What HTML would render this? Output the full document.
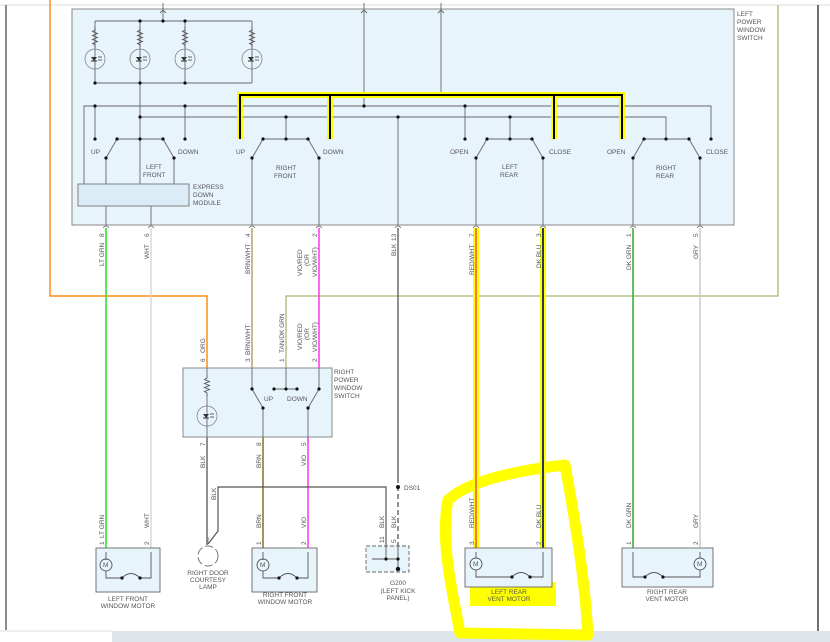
<!DOCTYPE html>
<html><head><meta charset="utf-8"><style>
html,body{margin:0;padding:0;background:#fff;}
svg{display:block;}
text{font-family:"Liberation Sans",sans-serif;font-size:6.5px;fill:#555;}
</style></head><body>
<svg width="830" height="642" viewBox="0 0 830 642" xmlns="http://www.w3.org/2000/svg">
<defs>
<g id="res"><path d="M0,0 l0,3 l-2.5,1.5 l5,2 l-5,2 l5,2 l-5,2 l5,2 l-5,2 l2.5,1.5 l0,3" fill="none" stroke="#555" stroke-width="0.9"/></g>
<g id="led"><circle r="10" fill="none" stroke="#777" stroke-width="0.7"/><path d="M-4,-2 l6,0 l-3,4z" fill="#333"/><path d="M-4,2 l6,0" stroke="#333"/><path d="M3,-2 l4,0 M3,1 l4,0" stroke="#333" stroke-width="0.8"/></g>
</defs>
<!-- frame lines -->
<line x1="0" y1="5" x2="830" y2="5" stroke="#ddd" stroke-width="1"/>
<line x1="6" y1="5" x2="6" y2="630" stroke="#666" stroke-width="1.5"/>
<line x1="818" y1="5" x2="818" y2="632" stroke="#111" stroke-width="1.2"/>
<line x1="0" y1="631" x2="112" y2="631" stroke="#ddd"/>
<rect x="112" y="631" width="718" height="11" fill="#dde4ea"/>

<!-- yellow scribble -->
<path d="M448,500 C470,480 520,470 565,465 C575,520 585,580 588,635 L460,633 C452,590 440,540 448,500 Z" fill="none" stroke="#ffff00" stroke-width="11" stroke-linejoin="round"/>
<rect x="470" y="582" width="86" height="24" fill="#ffff00"/>

<!-- orange & olive wires -->
<polyline points="50,0 50,296 207,296 207,368" fill="none" stroke="#ff8a1a" stroke-width="1.5"/>
<polyline points="778,5 778,296 286,296 286,368" fill="none" stroke="#a8b870" stroke-width="1.3"/>

<!-- main box -->
<rect x="72" y="9" width="662" height="216" fill="#e8f4fc" stroke="#888" stroke-width="1"/>
<text x="737" y="16">LEFT</text><text x="737" y="24">POWER</text><text x="737" y="32">WINDOW</text><text x="737" y="40">SWITCH</text>

<g stroke="#666" stroke-width="0.9" fill="none">
<line x1="163" y1="3" x2="163" y2="21"/><path d="M160,13 l3,-3 l3,3"/>
<line x1="95" y1="21" x2="252" y2="21"/>
<line x1="95" y1="21" x2="95" y2="83"/><line x1="140" y1="21" x2="140" y2="139"/><line x1="185" y1="21" x2="185" y2="83"/><line x1="252" y1="21" x2="252" y2="83"/>
<line x1="95" y1="83" x2="252" y2="83"/>
<polyline points="84,184 84,106 711,106 711,139"/>
<line x1="95" y1="106" x2="95" y2="139"/><line x1="185" y1="106" x2="185" y2="139"/><line x1="465" y1="106" x2="465" y2="139"/>
<polyline points="140,117 666,117 666,139"/>
<line x1="286" y1="117" x2="286" y2="139"/><line x1="510" y1="117" x2="510" y2="139"/>
<line x1="398" y1="117" x2="398" y2="225"/>
<line x1="364" y1="3" x2="364" y2="106"/><path d="M361,13 l3,-3 l3,3"/>
<line x1="441" y1="3" x2="441" y2="95"/><path d="M438,13 l3,-3 l3,3"/>
<!-- switch bars -->
<line x1="117" y1="139" x2="163" y2="139"/><line x1="263" y1="139" x2="308" y2="139"/><line x1="487" y1="139" x2="532" y2="139"/><line x1="644" y1="139" x2="689" y2="139"/>
<line x1="117" y1="139" x2="106" y2="158"/><line x1="163" y1="139" x2="174" y2="158"/>
<line x1="263" y1="139" x2="252" y2="158"/><line x1="308" y1="139" x2="319" y2="158"/>
<line x1="487" y1="139" x2="476" y2="158"/><line x1="532" y1="139" x2="543" y2="158"/>
<line x1="644" y1="139" x2="633" y2="158"/><line x1="689" y1="139" x2="700" y2="158"/>
<line x1="106" y1="158" x2="106" y2="184"/><line x1="174" y1="158" x2="174" y2="184"/><line x1="140" y1="139" x2="140" y2="184"/>
<line x1="106" y1="206" x2="106" y2="225"/><line x1="151" y1="206" x2="151" y2="225"/>
<line x1="252" y1="158" x2="252" y2="225"/><line x1="319" y1="158" x2="319" y2="225"/>
<line x1="476" y1="158" x2="476" y2="225"/><line x1="543" y1="158" x2="543" y2="225"/>
<line x1="633" y1="158" x2="633" y2="225"/><line x1="700" y1="158" x2="700" y2="225"/>
</g>
<rect x="78" y="184" width="111" height="22" fill="#dcecf6" stroke="#777" stroke-width="0.9"/>
<text x="193" y="189">EXPRESS</text><text x="193" y="197">DOWN</text><text x="193" y="205">MODULE</text>
<use href="#res" x="95" y="27"/><use href="#res" x="140" y="27"/><use href="#res" x="185" y="27"/><use href="#res" x="252" y="27"/>
<use href="#led" x="95" y="59"/><use href="#led" x="140" y="59"/><use href="#led" x="185" y="59"/><use href="#led" x="252" y="59"/>
<!-- yellow bold -->
<polyline points="240,139 240,95 622,95 622,139" fill="none" stroke="#ffff00" stroke-width="6"/>
<line x1="330" y1="95" x2="330" y2="139" stroke="#ffff00" stroke-width="6"/><line x1="554" y1="95" x2="554" y2="139" stroke="#ffff00" stroke-width="6"/>
<polyline points="240,139 240,95 622,95 622,139" fill="none" stroke="#000" stroke-width="2"/>
<line x1="330" y1="95" x2="330" y2="139" stroke="#000" stroke-width="2"/><line x1="554" y1="95" x2="554" y2="139" stroke="#000" stroke-width="2"/>
<g fill="#111">
<circle cx="163" cy="21" r="1.6"/><circle cx="140" cy="21" r="1.6"/><circle cx="185" cy="21" r="1.6"/>
<circle cx="95" cy="83" r="1.6"/><circle cx="140" cy="83" r="1.6"/><circle cx="185" cy="83" r="1.6"/>
<circle cx="95" cy="106" r="1.6"/><circle cx="185" cy="106" r="1.6"/><circle cx="364" cy="106" r="1.6"/><circle cx="465" cy="106" r="1.6"/>
<circle cx="140" cy="117" r="1.6"/><circle cx="286" cy="117" r="1.6"/><circle cx="398" cy="117" r="1.6"/><circle cx="510" cy="117" r="1.6"/>
<circle cx="95" cy="139" r="1.6"/><circle cx="185" cy="139" r="1.6"/><circle cx="117" cy="139" r="1.6"/><circle cx="140" cy="139" r="1.6"/><circle cx="163" cy="139" r="1.6"/>
<circle cx="263" cy="139" r="1.6"/><circle cx="286" cy="139" r="1.6"/><circle cx="308" cy="139" r="1.6"/>
<circle cx="465" cy="139" r="1.6"/><circle cx="487" cy="139" r="1.6"/><circle cx="510" cy="139" r="1.6"/><circle cx="532" cy="139" r="1.6"/>
<circle cx="644" cy="139" r="1.6"/><circle cx="666" cy="139" r="1.6"/><circle cx="689" cy="139" r="1.6"/><circle cx="711" cy="139" r="1.6"/>
<circle cx="106" cy="158" r="1.6"/><circle cx="174" cy="158" r="1.6"/><circle cx="252" cy="158" r="1.6"/><circle cx="319" cy="158" r="1.6"/>
<circle cx="476" cy="158" r="1.6"/><circle cx="543" cy="158" r="1.6"/><circle cx="633" cy="158" r="1.6"/><circle cx="700" cy="158" r="1.6"/>
</g>
<text x="91" y="154">UP</text><text x="178" y="154">DOWN</text><text x="146" y="169">LEFT</text><text x="143" y="177">FRONT</text>
<text x="236" y="154">UP</text><text x="323" y="154">DOWN</text><text x="276" y="170">RIGHT</text><text x="274" y="178">FRONT</text>
<text x="450" y="154">OPEN</text><text x="549" y="154">CLOSE</text><text x="502" y="169">LEFT</text><text x="500" y="177">REAR</text>
<text x="607" y="154">OPEN</text><text x="706" y="154">CLOSE</text><text x="656" y="170">RIGHT</text><text x="656" y="178">REAR</text>

<!-- wires from main box -->
<line x1="106" y1="228" x2="106" y2="548" stroke="#22e022" stroke-width="1.5"/>
<line x1="151" y1="228" x2="151" y2="548" stroke="#d8d8d8" stroke-width="1.5"/>
<line x1="252" y1="228" x2="252" y2="368" stroke="#b8a070" stroke-width="1.5"/>
<line x1="319" y1="228" x2="319" y2="368" stroke="#ff33ee" stroke-width="1.5"/>
<line x1="398" y1="228" x2="398" y2="478" stroke="#555" stroke-width="1.3"/>
<line x1="398" y1="478" x2="398" y2="546" stroke="#555" stroke-width="1.3" stroke-dasharray="5,3"/>
<line x1="476" y1="228" x2="476" y2="548" stroke="#ffff00" stroke-width="6"/>
<line x1="476" y1="228" x2="476" y2="548" stroke="#e04040" stroke-width="1.3"/>
<line x1="543" y1="228" x2="543" y2="548" stroke="#ffff00" stroke-width="6"/>
<line x1="543" y1="228" x2="543" y2="548" stroke="#112266" stroke-width="1.8"/>
<line x1="633" y1="228" x2="633" y2="548" stroke="#33aa33" stroke-width="1.5"/>
<line x1="700" y1="228" x2="700" y2="548" stroke="#cccccc" stroke-width="1.5"/>
<g fill="none" stroke="#666" stroke-width="0.8">
<path d="M103,228 q3,-4 6,0 M148,228 q3,-4 6,0 M249,228 q3,-4 6,0 M316,228 q3,-4 6,0 M395,228 q3,-4 6,0 M473,228 q3,-4 6,0 M540,228 q3,-4 6,0 M630,228 q3,-4 6,0 M697,228 q3,-4 6,0"/>
</g>
<g>
<text transform="translate(104,266) rotate(-90)">LT GRN</text><text transform="translate(104,237) rotate(-90)">8</text>
<text transform="translate(149,259) rotate(-90)">WHT</text><text transform="translate(149,237) rotate(-90)">6</text>
<text transform="translate(250,274) rotate(-90)">BRN/WHT</text><text transform="translate(250,237) rotate(-90)">4</text>
<text transform="translate(302,276) rotate(-90)">VIO/RED</text><text transform="translate(309,266) rotate(-90)">(OR</text><text transform="translate(317,277) rotate(-90)">VIO/WHT)</text><text transform="translate(317,237) rotate(-90)">2</text>
<text transform="translate(396,256) rotate(-90)">BLK</text><text transform="translate(396,241) rotate(-90)">13</text>
<text transform="translate(474,275) rotate(-90)">RED/WHT</text><text transform="translate(474,237) rotate(-90)">7</text>
<text transform="translate(541,268) rotate(-90)">DK BLU</text><text transform="translate(541,237) rotate(-90)">3</text>
<text transform="translate(631,270) rotate(-90)">DK GRN</text><text transform="translate(631,237) rotate(-90)">1</text>
<text transform="translate(698,259) rotate(-90)">GRY</text><text transform="translate(698,237) rotate(-90)">5</text>
<text transform="translate(205,353) rotate(-90)">ORG</text><text transform="translate(205,362) rotate(-90)">6</text>
<text transform="translate(250,355) rotate(-90)">BRN/WHT</text><text transform="translate(250,362) rotate(-90)">3</text>
<text transform="translate(284,353) rotate(-90)">TAN/DK GRN</text><text transform="translate(284,362) rotate(-90)">1</text>
<text transform="translate(302,350) rotate(-90)">VIO/RED</text><text transform="translate(309,340) rotate(-90)">(OR</text><text transform="translate(317,352) rotate(-90)">VIO/WHT)</text><text transform="translate(317,362) rotate(-90)">2</text>
<text transform="translate(205,446) rotate(-90)">7</text><text transform="translate(205,468) rotate(-90)">BLK</text>
<text transform="translate(261,446) rotate(-90)">8</text><text transform="translate(261,468) rotate(-90)">BRN</text>
<text transform="translate(306,446) rotate(-90)">5</text><text transform="translate(306,466) rotate(-90)">VIO</text>
</g>

<!-- right power window switch -->
<line x1="207" y1="437" x2="207" y2="545" stroke="#555" stroke-width="1.3"/>
<line x1="263" y1="437" x2="263" y2="548" stroke="#8b6a2a" stroke-width="1.5"/>
<line x1="308" y1="437" x2="308" y2="548" stroke="#ff33ee" stroke-width="1.5"/>
<rect x="183" y="368" width="149" height="69" fill="#e8f4fc" stroke="#888"/>
<text x="334" y="374">RIGHT</text><text x="334" y="382">POWER</text><text x="334" y="390">WINDOW</text><text x="334" y="398">SWITCH</text>
<g stroke="#666" stroke-width="0.9" fill="none">
<line x1="207" y1="368" x2="207" y2="375"/><line x1="207" y1="395" x2="207" y2="437"/>
<line x1="252" y1="368" x2="252" y2="389"/><line x1="252" y1="389" x2="263" y2="408"/><line x1="263" y1="408" x2="263" y2="437"/>
<line x1="319" y1="368" x2="319" y2="389"/><line x1="319" y1="389" x2="308" y2="408"/><line x1="308" y1="408" x2="308" y2="437"/>
<line x1="274" y1="389" x2="297" y2="389"/><line x1="286" y1="368" x2="286" y2="389"/>
</g>
<use href="#res" x="207" y="375"/><use href="#led" x="207" y="416"/>
<g fill="#111"><circle cx="252" cy="389" r="1.6"/><circle cx="263" cy="408" r="1.6"/><circle cx="319" cy="389" r="1.6"/><circle cx="308" cy="408" r="1.6"/><circle cx="274" cy="389" r="1.6"/><circle cx="286" cy="389" r="1.6"/><circle cx="297" cy="389" r="1.6"/></g>
<text x="264" y="401">UP</text><text x="287" y="401">DOWN</text>

<!-- BLK splice -->
<polyline points="208,544 218,531 218,487 386,487 386,546" fill="none" stroke="#555" stroke-width="1.2"/>
<text transform="translate(216,500) rotate(-90)">BLK</text>
<circle cx="398" cy="487" r="2" fill="#111"/><text x="404" y="490">DS01</text>
<text transform="translate(384,528) rotate(-90)">BLK</text><text transform="translate(396,528) rotate(-90)">BLK</text>
<text transform="translate(384,543) rotate(-90)">11</text><text transform="translate(396,543) rotate(-90)">5</text>

<!-- lamp -->
<circle cx="208" cy="556" r="10" fill="none" stroke="#777" stroke-dasharray="8,3"/>
<text x="206" y="542">2</text>
<text x="208" y="575" text-anchor="middle">RIGHT DOOR</text><text x="208" y="582" text-anchor="middle">COURTESY</text><text x="208" y="589" text-anchor="middle">LAMP</text>

<!-- motors -->
<g stroke="#666" stroke-width="0.9">
<rect x="96" y="548" width="64" height="44" fill="#e8f4fc"/>
<rect x="252" y="548" width="65" height="44" fill="#e8f4fc"/>
<rect x="465" y="548" width="87" height="39" fill="#e8f4fc"/>
<rect x="622" y="548" width="91" height="39" fill="#e8f4fc"/>
<rect x="366" y="546" width="43" height="26" fill="#e8f4fc" stroke-dasharray="4,2"/>
</g>
<g fill="none" stroke="#555" stroke-width="0.9">
<!-- LF -->
<polyline points="106,552 106,560"/><circle cx="106" cy="565" r="6"/><polyline points="106,571 106,578 122,578"/><path d="M122,578 q9,-9 18,0"/><polyline points="140,578 151,578 151,552"/>
<!-- RF -->
<polyline points="263,552 263,560"/><circle cx="263" cy="565" r="6"/><polyline points="263,571 263,578 279,578"/><path d="M279,578 q9,-9 18,0"/><polyline points="297,578 308,578 308,552"/>
<!-- LR -->
<polyline points="476,552 476,558"/><circle cx="476" cy="564" r="6"/><polyline points="476,570 476,577 512,577"/><path d="M512,577 q9,-9 18,0"/><polyline points="530,577 543,577 543,552"/>
<!-- RR -->
<polyline points="633,552 633,577 645,577"/><path d="M645,577 q9,-9 18,0"/><polyline points="663,577 700,577 700,570"/><circle cx="700" cy="564" r="6"/><polyline points="700,558 700,552"/>
<!-- G200 -->
<polyline points="386,546 386,559"/><polyline points="372,559 398,559"/><polyline points="398,546 398,569"/>
</g>
<g fill="#111">
<circle cx="122" cy="578" r="1.6"/><circle cx="140" cy="578" r="1.6"/><circle cx="279" cy="578" r="1.6"/><circle cx="297" cy="578" r="1.6"/>
<circle cx="512" cy="577" r="1.6"/><circle cx="530" cy="577" r="1.6"/><circle cx="645" cy="577" r="1.6"/><circle cx="663" cy="577" r="1.6"/>
<circle cx="386" cy="559" r="1.6"/><circle cx="398" cy="559" r="1.6"/><circle cx="398" cy="569" r="2.2"/>
</g>
<g style="font-size:5px"><text x="103" y="567">M</text><text x="260" y="567">M</text><text x="473" y="566">M</text><text x="697" y="566">M</text></g>
<g>
<text transform="translate(104,538) rotate(-90)">LT GRN</text><text transform="translate(104,545) rotate(-90)">1</text>
<text transform="translate(149,528) rotate(-90)">WHT</text><text transform="translate(149,545) rotate(-90)">2</text>
<text transform="translate(261,528) rotate(-90)">BRN</text><text transform="translate(261,545) rotate(-90)">1</text>
<text transform="translate(306,528) rotate(-90)">VIO</text><text transform="translate(306,545) rotate(-90)">2</text>
<text transform="translate(474,528) rotate(-90)">RED/WHT</text><text transform="translate(474,545) rotate(-90)">3</text>
<text transform="translate(541,528) rotate(-90)">DK BLU</text><text transform="translate(541,545) rotate(-90)">2</text>
<text transform="translate(631,528) rotate(-90)">DK GRN</text><text transform="translate(631,545) rotate(-90)">1</text>
<text transform="translate(698,528) rotate(-90)">GRY</text><text transform="translate(698,545) rotate(-90)">2</text>
</g>
<text x="128" y="601" text-anchor="middle">LEFT FRONT</text><text x="128" y="608" text-anchor="middle">WINDOW MOTOR</text>
<text x="285" y="597" text-anchor="middle">RIGHT FRONT</text><text x="285" y="604" text-anchor="middle">WINDOW MOTOR</text>
<text x="509" y="594" text-anchor="middle">LEFT REAR</text><text x="509" y="601" text-anchor="middle">VENT MOTOR</text>
<text x="667" y="594" text-anchor="middle">RIGHT REAR</text><text x="667" y="601" text-anchor="middle">VENT MOTOR</text>
<text x="398" y="585" text-anchor="middle">G200</text><text x="398" y="593" text-anchor="middle">(LEFT KICK</text><text x="398" y="600" text-anchor="middle">PANEL)</text>
</svg>
</body></html>
